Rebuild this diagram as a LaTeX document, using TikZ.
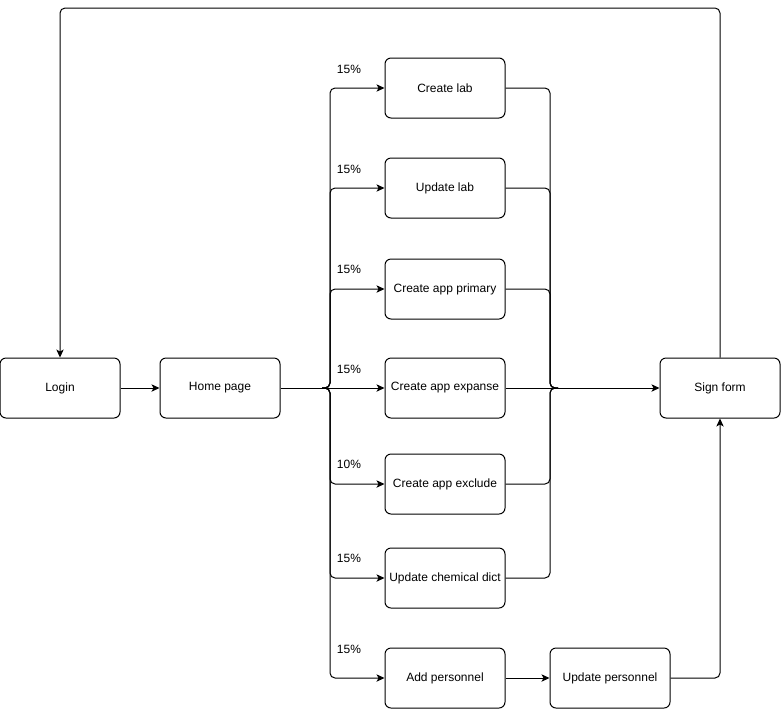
\documentclass[tikz,border=0pt]{standalone}
\usepackage{fontspec}
\setmainfont{Liberation Sans}
\usetikzlibrary{arrows.meta,positioning}
\tikzset{
  dob/.style={draw,rounded corners=4.5pt,minimum width=90pt,minimum height=45pt,
    inner sep=2pt,align=center,font=\fontsize{9}{11}\selectfont},
  nyil/.style={-{Stealth[length=6pt,width=5.5pt,inset=1.5pt]},rounded corners=3.75pt},
  vonal/.style={rounded corners=3.75pt},
  szaz/.style={font=\fontsize{9}{11}\selectfont,inner sep=0pt},
}

\begin{document}
\begin{tikzpicture}[x=0.75pt,y=-0.75pt,line width=0.75pt]
  \useasboundingbox (0,0) rectangle (781,708);
  % csomopontok
  \node[dob] (login) at (60,388) {Login};
  \node[dob] (home) at (220,388) {Home page};
  \node[dob] (clab) at (445,88) {Create lab};
  \node[dob] (ulab) at (445,188) {Update lab};
  \node[dob] (prim) at (445,289) {Create app primary};
  \node[dob] (expa) at (445,388) {Create app expanse};
  \node[dob] (excl) at (445,484) {Create app exclude};
  \node[dob] (chem) at (445,578) {Update chemical dict};
  \node[dob] (addp) at (445,678) {Add personnel};
  \node[dob] (updp) at (610,678) {Update personnel};
  \node[dob] (sign) at (720,388) {Sign form};
  \coordinate (szet0) at (322,388);
  \coordinate (szet) at (330,388);
  \coordinate (ossze) at (550,388);
  \coordinate (ossze0) at (558,388);
  \coordinate (fent) at (390,8);
  % elagazas
  \draw[nyil] (login) -- (home);
  \draw[nyil] (home.east) -- (expa.west);
  \foreach \b in {clab,ulab,prim,excl,chem,addp}
    \draw[nyil] (szet0) -- (szet) |- (\b.west);
  % szazalekok
  \node[szaz] (p1) at (349,69) {15\%};
  \node[szaz] (p2) at (349,169) {15\%};
  \node[szaz] (p3) at (349,269) {15\%};
  \node[szaz] (p4) at (349,369) {15\%};
  \node[szaz] (p5) at (349,464) {10\%};
  \node[szaz] (p6) at (349,558) {15\%};
  \node[szaz] (p7) at (349,649) {15\%};
  % osszefutas
  \draw[nyil] (expa.east) -- (sign.west);
  \foreach \b in {clab,ulab,prim,excl,chem}
    \draw[vonal] (\b.east) -| (ossze) -- (ossze0);
  \draw[nyil] (addp) -- (updp);
  \draw[nyil] (updp.east) -| (sign.south);
  \draw[nyil] (sign.north) |- (fent) -| (login.north);
\end{tikzpicture}
\end{document}
